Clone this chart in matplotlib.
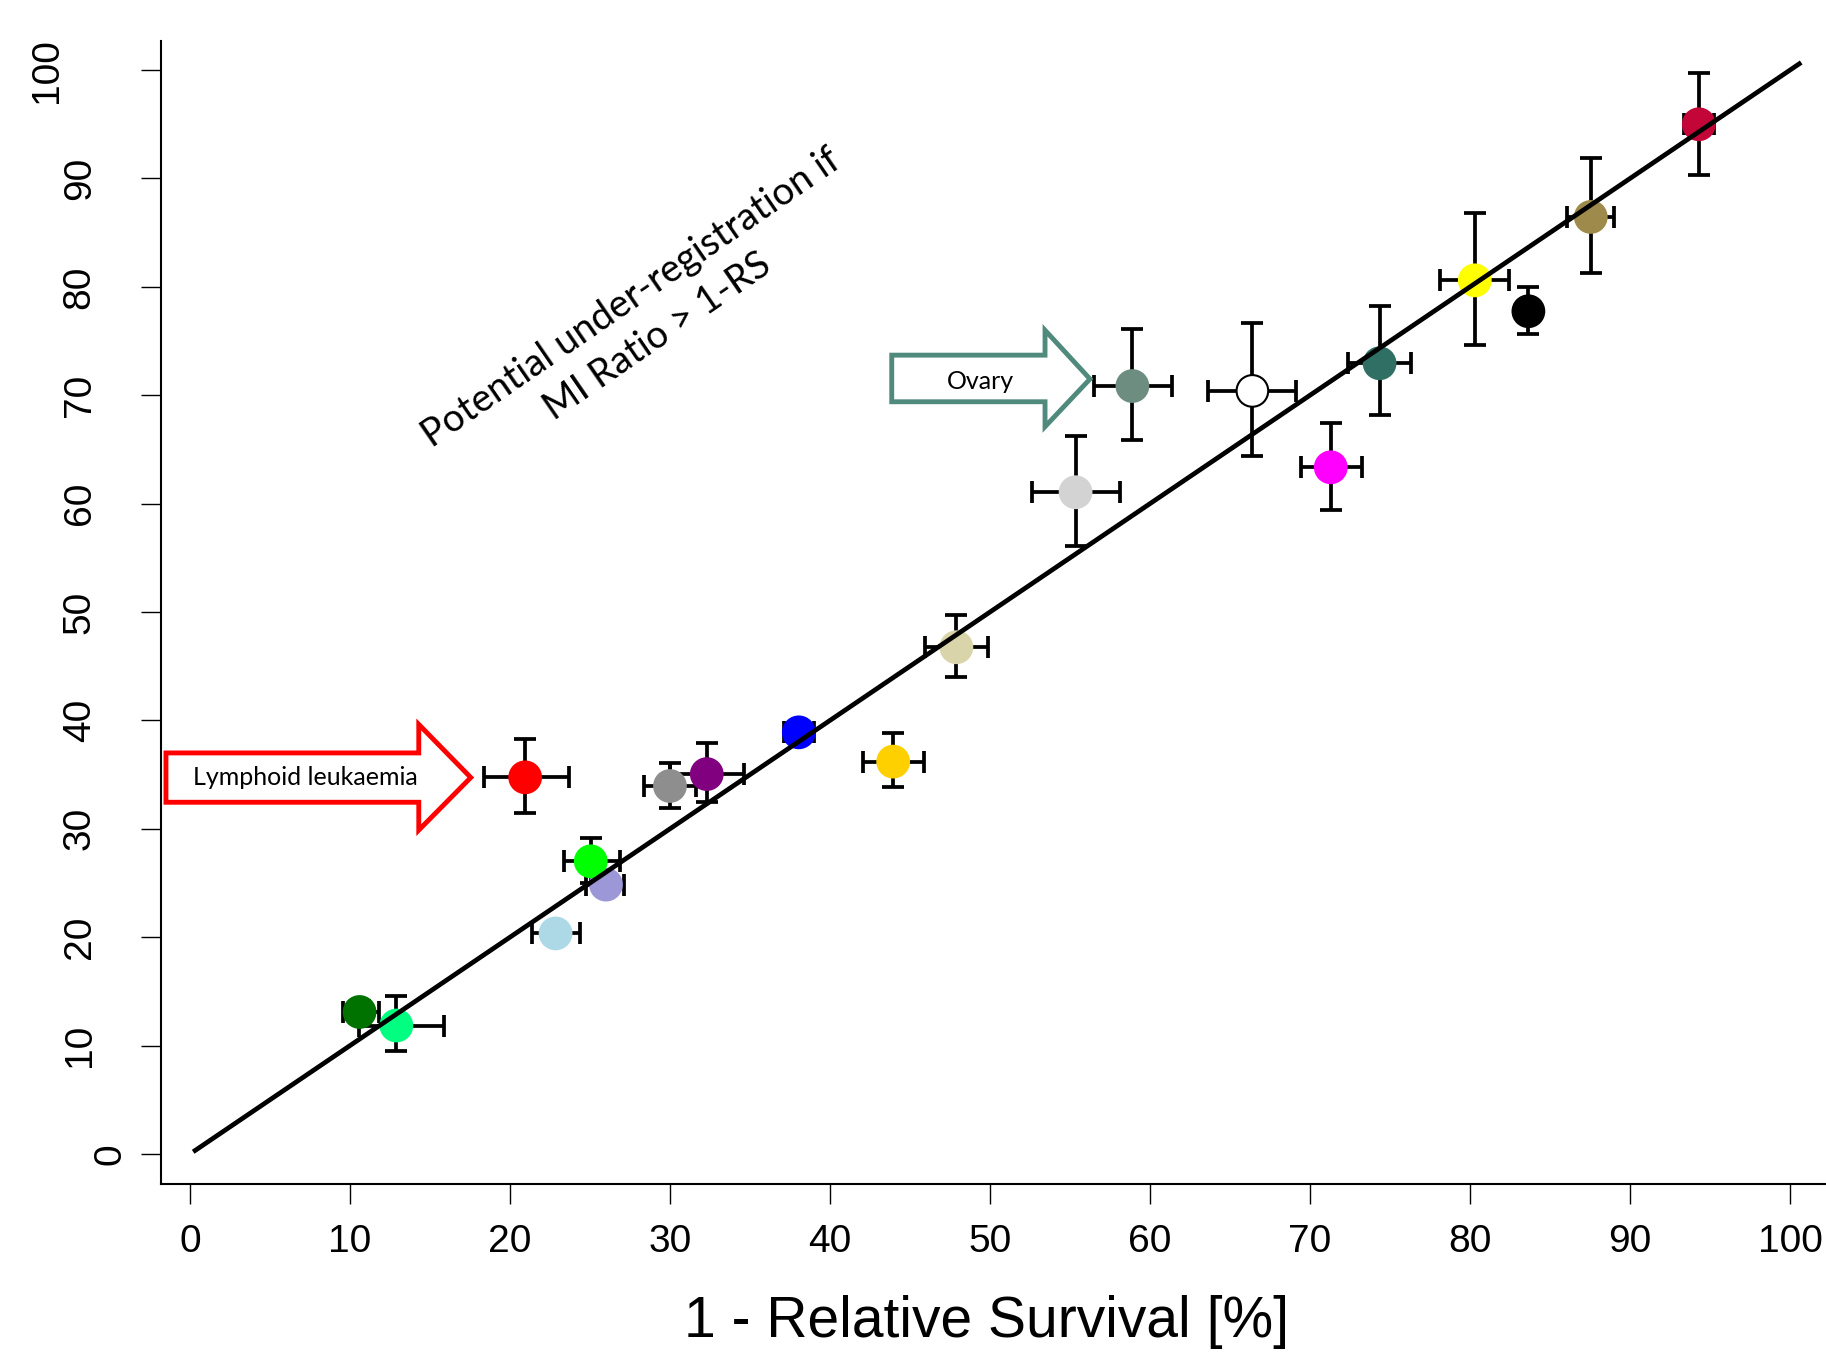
import matplotlib
matplotlib.use("Agg")
import matplotlib.pyplot as plt
from matplotlib.patches import Polygon
import numpy as np

# ---------------- data ----------------
x_rs = [10.6, 12.9, 22.85, 26.0, 25.05, 20.95, 30.0, 32.3, 38.05, 43.95,
        47.9, 55.35, 58.9, 66.4, 71.3, 74.35, 80.3, 83.65, 87.55, 94.3]
y_mi = [13.1, 11.85, 20.35, 24.85, 27.0, 34.75, 33.95, 35.05, 38.9, 36.2,
        46.75, 61.05, 70.85, 70.4, 63.35, 72.95, 80.6, 77.75, 86.45, 95.0]
x_err_lo = [1.05, 2.35, 1.5, 1.25, 1.65, 2.55, 1.6, 2.3, 0.9, 1.9,
            1.95, 2.7, 2.4, 2.75, 1.85, 1.95, 2.15, 0.6, 1.5, 0.95]
x_err_hi = [1.2, 2.95, 1.5, 1.1, 1.8, 2.75, 1.65, 2.3, 0.95, 1.95,
            1.95, 2.8, 2.45, 2.75, 1.95, 1.95, 2.15, 0.6, 1.45, 0.95]
y_err_lo = [1.0, 2.35, 0.8, 1.0, 2.0, 3.3, 2.0, 2.6, 0.8, 2.35,
            2.7, 5.0, 5.0, 6.0, 3.95, 4.8, 5.95, 2.1, 5.2, 4.65]
y_err_hi = [1.0, 2.7, 0.8, 1.0, 2.15, 3.55, 2.1, 2.9, 0.8, 2.6,
            3.0, 5.2, 5.3, 6.3, 4.1, 5.3, 6.25, 2.25, 5.45, 4.7]
point_colors = ["#007200", "#00FF80", "#ADD8E6", "#9C98D8", "#00FF00", "#FF0000",
                "#8E8E8E", "#800080", "#0000FF", "#FFD000", "#D9D4AA", "#D3D3D3",
                "#6C8D80", "#FFFFFF", "#FF00FF", "#2F6F64", "#FFFF00", "#000000",
                "#9E8A4A", "#C30538"]
line_x = [0.2, 100.7]
line_y = [0.2, 100.7]
x_ticks = list(range(0, 101, 10))
y_ticks = list(range(0, 101, 10))
x_label = "1 - Relative Survival [%]"
note_text = "Potential under-registration if\nMI Ratio > 1-RS"
label_lymphoid = "Lymphoid leukaemia"
label_ovary = "Ovary"

# ---------------- figure ----------------
fig = plt.figure(figsize=(18.26, 13.56), dpi=100)
ax = fig.add_axes([0.0880, 0.1266, 0.912, 0.8433])
ax.set_xlim(-1.83, 102.25)
ax.set_ylim(-2.8, 102.7)

for s in ["top", "right"]:
    ax.spines[s].set_visible(False)
for s in ["left", "bottom"]:
    ax.spines[s].set_linewidth(1.5)

ax.errorbar(x_rs, y_mi, xerr=[x_err_lo, x_err_hi], yerr=[y_err_lo, y_err_hi],
            fmt="none", ecolor="black", elinewidth=2.7, capsize=7.8,
            capthick=2.7, zorder=2)
edge = ["black" if c == "#FFFFFF" else c for c in point_colors]
ax.scatter(x_rs, y_mi, s=520, c=point_colors, edgecolors=edge,
           linewidths=1.5, zorder=3)
ax.plot(line_x, line_y, color="black", lw=3.4, zorder=4, solid_capstyle="butt")

font_main = ["Liberation Sans", "DejaVu Sans"]
ax.set_xticks(x_ticks)
ax.set_xticklabels([str(v) for v in x_ticks], fontsize=28, family=font_main)
ax.tick_params(axis="x", length=14.4, width=1.0, pad=14)
ax.set_yticks(y_ticks)
ax.set_yticklabels([])
ax.tick_params(axis="y", length=14.4, width=1.0)

for v in y_ticks:
    lab = str(v)
    off = {1: 50, 2: 81, 3: 114}[len(lab)]
    ax.annotate(lab, xy=(0, v), xycoords=("axes fraction", "data"),
                xytext=(-off, 0), textcoords="offset pixels",
                rotation=90, ha="center", va="center", fontsize=28,
                family=font_main)

fig.text(987 / 1826, 1 - 1322 / 1356, x_label, ha="center", va="center",
         fontsize=41, family=font_main)

# rotated annotation
ax.text(28.4, 77.2, note_text, rotation=34.5, rotation_mode="anchor",
        ha="center", va="center", multialignment="center",
        fontsize=27.5, family=["Lato", "DejaVu Sans"], linespacing=1.4)


def block_arrow(left, body_top, body_bot, head_base, head_top, head_bot, tip_x, tip_y, color):
    pts = [(left, body_top), (head_base, body_top), (head_base, head_top),
           (tip_x, tip_y), (head_base, head_bot), (head_base, body_bot),
           (left, body_bot)]
    poly = Polygon(pts, closed=True, facecolor="white", edgecolor=color,
                   lw=3.5, joinstyle="miter", zorder=5)
    ax.add_patch(poly)


block_arrow(-1.5, 37.0, 32.45, 14.3, 39.63, 29.88, 17.55, 34.73, "#FF0000")
ax.text(7.2, 34.7, label_lymphoid, ha="center", va="center", fontsize=18,
        family=["Lato", "DejaVu Sans"], zorder=6)

block_arrow(43.86, 73.7, 69.4, 53.44, 76.0, 67.1, 56.25, 71.5, "#508A7D")
ax.text(49.4, 71.3, label_ovary, ha="center", va="center", fontsize=18,
        family=["Lato", "DejaVu Sans"], zorder=6)

fig.save = None
fig.savefig("out.png", dpi=100)
